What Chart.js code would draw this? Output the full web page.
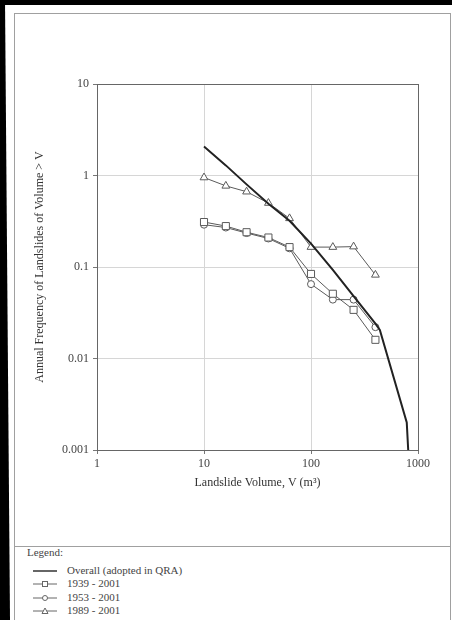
<!DOCTYPE html>
<html lang="en">
<head>
<meta charset="UTF-8" />
<title>Landslide Frequency vs Volume</title>
<script src="https://cdn.jsdelivr.net/npm/chart.js"></script>
<style>
  body {
    margin: 0;
    width: 452px;
    height: 620px;
    position: relative;
    overflow: hidden;
    background: #fff;
    font-family: "Liberation Serif", "DejaVu Serif", serif;
    color: #444;
  }
  /* dark scan edges */
  #topBar { position: absolute; left: 0; top: 0; width: 452px; height: 5px; background: #000; }
  #leftBar {
    position: absolute; left: 0; top: 0; width: 12px; height: 620px; background: #000;
    clip-path: polygon(0 0, 5px 0, 10px 100%, 0 100%);
  }
  #frame {
    position: absolute; left: 14px; top: 13px; width: 435px; height: 620px;
    border: 1px solid #a0a0a0; border-bottom: none;
  }
  #chartBox { position: absolute; left: 15px; top: 14px; width: 434px; height: 531px; }
  #sep { position: absolute; left: 14px; top: 546px; width: 436px; height: 1px; background: #a0a0a0; }
  .leg { position: absolute; left: 27px; font-size: 11px; line-height: 13px; white-space: nowrap; }
  .leg svg { position: absolute; left: 6px; top: 2px; }
  .leg span { position: absolute; left: 40px; top: 0; }
</style>
</head>
<body>
  <div id="topBar"></div>
  <div id="leftBar"></div>
  <div id="frame"></div>
  <div id="chartBox"><canvas id="freqChart" width="434" height="531"></canvas></div>
  <div id="sep"></div>

  <div class="leg" style="top:546px">Legend:</div>
  <div class="leg" style="top:564px">
    <svg width="26" height="10"><line x1="0" y1="5" x2="24" y2="5" stroke="#333" stroke-width="1.5"/></svg>
    <span>Overall (adopted in QRA)</span>
  </div>
  <div class="leg" style="top:577px">
    <svg width="26" height="10"><line x1="0" y1="5" x2="24" y2="5" stroke="#666" stroke-width="1"/>
      <rect x="9.5" y="2.5" width="5" height="5" fill="#fff" stroke="#666" stroke-width="1"/></svg>
    <span>1939 - 2001</span>
  </div>
  <div class="leg" style="top:591px">
    <svg width="26" height="10"><line x1="0" y1="5" x2="24" y2="5" stroke="#666" stroke-width="1"/>
      <circle cx="12" cy="5" r="2.5" fill="#fff" stroke="#666" stroke-width="1"/></svg>
    <span>1953 - 2001</span>
  </div>
  <div class="leg" style="top:604px">
    <svg width="26" height="10"><line x1="0" y1="5" x2="24" y2="5" stroke="#666" stroke-width="1"/>
      <polygon points="12,2 15,7.5 9,7.5" fill="#fff" stroke="#666" stroke-width="1"/></svg>
    <span>1989 - 2001</span>
  </div>

<script>
  // landslide volume classes (m3) used for the recorded periods
  const volumes = [10, 16, 25, 40, 63, 100, 160, 250, 400];
  const freq1939 = [0.31, 0.28, 0.24, 0.21, 0.165, 0.084, 0.051, 0.034, 0.016];
  const freq1953 = [0.29, 0.27, 0.235, 0.205, 0.16, 0.065, 0.044, 0.044, 0.022];
  const freq1989 = [0.95, 0.77, 0.665, 0.50, 0.34, 0.165, 0.165, 0.167, 0.082];

  // adopted overall relation
  const overallVolume = [10, 16, 25, 40, 63, 100, 160, 250, 400, 440, 785, 810];
  const overallFreq = [2.07, 1.29, 0.80, 0.49, 0.32, 0.18, 0.093, 0.048, 0.024, 0.0205, 0.002, 0.001];

  const xTickValues = [1, 10, 100, 1000];
  const yTickValues = [0.001, 0.01, 0.1, 1, 10];

  const serif = '"Liberation Serif", "DejaVu Serif", serif';

  function toPoints(xs, ys) {
    return xs.map((x, i) => ({ x: x, y: ys[i] }));
  }

  function series(label, ys, style, radius) {
    return {
      label: label,
      data: toPoints(volumes, ys),
      borderColor: '#5a5a5a',
      borderWidth: 1,
      pointStyle: style,
      pointRadius: radius,
      pointBackgroundColor: '#fff',
      pointBorderColor: '#5a5a5a',
      pointBorderWidth: 1,
      fill: false,
      tension: 0
    };
  }

  // box round the plotting area
  const plotFrame = {
    id: 'plotFrame',
    afterDatasetsDraw(chart) {
      const a = chart.chartArea;
      const c = chart.ctx;
      c.save();
      c.strokeStyle = '#666';
      c.lineWidth = 1;
      c.strokeRect(a.left + 0.5, a.top + 0.5, a.right - a.left, a.bottom - a.top);
      c.restore();
    }
  };

  const ctx = document.getElementById('freqChart').getContext('2d');
  new Chart(ctx, {
    type: 'line',
    data: {
      datasets: [
        {
          label: 'Overall (adopted in QRA)',
          data: toPoints(overallVolume, overallFreq),
          borderColor: '#222',
          borderWidth: 2,
          pointRadius: 0,
          fill: false,
          tension: 0
        },
        series('1939 - 2001', freq1939, 'rect', 5),
        series('1953 - 2001', freq1953, 'circle', 3.5),
        series('1989 - 2001', freq1989, 'triangle', 4.5)
      ]
    },
    options: {
      animation: false,
      responsive: false,
      layout: { padding: { left: 0, top: 70, right: 31, bottom: 0 } },
      plugins: { legend: { display: false }, tooltip: { enabled: false } },
      scales: {
        x: {
          type: 'logarithmic',
          min: 1,
          max: 1000,
          afterBuildTicks: s => { s.ticks = xTickValues.map(v => ({ value: v })); },
          afterFit: s => { s.height = 95; },
          ticks: {
            callback: v => String(v),
            font: { family: serif, size: 12 },
            color: '#444',
            padding: 3,
            maxRotation: 0,
            autoSkip: false
          },
          grid: { color: '#d6d6d6', tickLength: 4, tickColor: '#777' },
          border: { color: '#666' },
          title: {
            display: true,
            text: 'Landslide Volume, V (m³)',
            font: { family: serif, size: 12 },
            color: '#333',
            padding: { top: 0, bottom: 55 }
          }
        },
        y: {
          type: 'logarithmic',
          min: 0.001,
          max: 10,
          afterBuildTicks: s => { s.ticks = yTickValues.map(v => ({ value: v })); },
          afterFit: s => { s.width = 82; },
          ticks: {
            callback: v => String(v),
            font: { family: serif, size: 12 },
            color: '#444',
            padding: 4,
            autoSkip: false
          },
          grid: { color: '#d6d6d6', tickLength: 4, tickColor: '#777' },
          border: { color: '#666' },
          title: {
            display: true,
            text: 'Annual Frequency of Landslides of Volume > V',
            font: { family: serif, size: 12 },
            color: '#333',
            padding: { top: 18, bottom: 0 }
          }
        }
      }
    },
    plugins: [plotFrame]
  });
</script>
</body>
</html>
